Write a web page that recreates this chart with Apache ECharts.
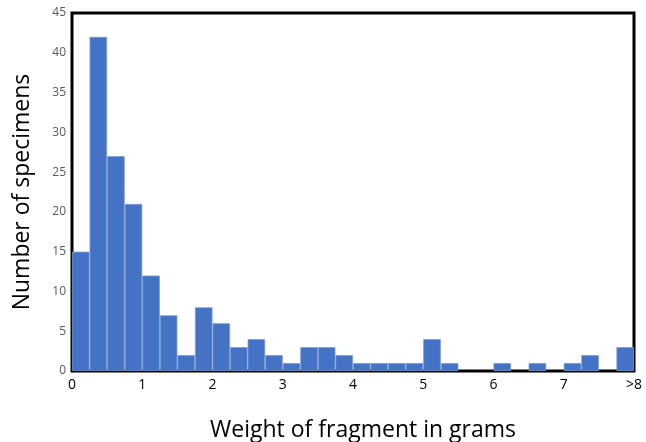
<!DOCTYPE html>
<html>
<head>
<meta charset="utf-8">
<script src="https://cdn.jsdelivr.net/npm/echarts@6/dist/echarts.min.js"></script>
<style>
  html, body { margin: 0; padding: 0; background: #fff; }
  #chart { width: 646px; height: 442px; }
</style>
</head>
<body>
<div id="chart"></div>
<script>
// bin starts in grams (0.25 g bins); last bin is the ">8" group
const binStarts = [0, 0.25, 0.5, 0.75, 1, 1.25, 1.5, 1.75, 2, 2.25, 2.5, 2.75,
  3, 3.25, 3.5, 3.75, 4, 4.25, 4.5, 4.75, 5, 5.25, 5.5, 5.75,
  6, 6.25, 6.5, 6.75, 7, 7.25, 7.5, 7.75];
const counts = [15, 42, 27, 21, 12, 7, 2, 8, 6, 3, 4, 2, 1, 3, 3, 2,
  1, 1, 1, 1, 4, 1, 0, 0, 1, 0, 1, 0, 1, 2, 0, 3];
const xTicks = [0, 1, 2, 3, 4, 5, 6, 7, 8];
const xTickLabels = ["0", "1", "2", "3", "4", "5", "6", "7", ">8"];

const chart = echarts.init(document.getElementById("chart"));
chart.setOption({
  animation: false,
  grid: {
    left: 72, right: 12, top: 13, bottom: 71,
    outerBoundsMode: "none",
    containLabel: false,
    show: true, borderColor: "#000", borderWidth: 3, backgroundColor: "#fff"
  },
  xAxis: [
    {
      type: "category",
      data: binStarts.map(String),
      show: false
    },
    {
      type: "value",
      min: 0, max: 8, interval: 1,
      position: "bottom",
      axisLine: { show: false },
      axisTick: { show: false },
      splitLine: { show: false },
      axisLabel: {
        color: "#000", fontSize: 14, fontFamily: "Open Sans", margin: 7,
        formatter: v => xTickLabels[xTicks.indexOf(v)]
      },
      name: "Weight of fragment in grams",
      nameLocation: "middle",
      nameGap: 48,
      nameTextStyle: { color: "#000", fontSize: 23, fontFamily: "Open Sans", padding: [0, 0, 0, 20] }
    }
  ],
  yAxis: {
    type: "value",
    min: 0, max: 45, interval: 5,
    axisLine: { show: false },
    axisTick: { show: false },
    splitLine: { show: false },
    axisLabel: { color: "#595959", fontSize: 12, fontFamily: "Open Sans", margin: 6 },
    name: "Number of specimens",
    nameLocation: "middle",
    nameGap: 38,
    nameTextStyle: { color: "#000", fontSize: 23, fontFamily: "Open Sans" }
  },
  series: [{
    type: "bar",
    xAxisIndex: 0,
    data: counts.map(c => (c === 0 ? null : c)),
    barCategoryGap: "0%",
    itemStyle: { color: "#4472C4", borderColor: "#7D9BD6", borderWidth: 0.8 }
  }]
});
</script>
</body>
</html>
